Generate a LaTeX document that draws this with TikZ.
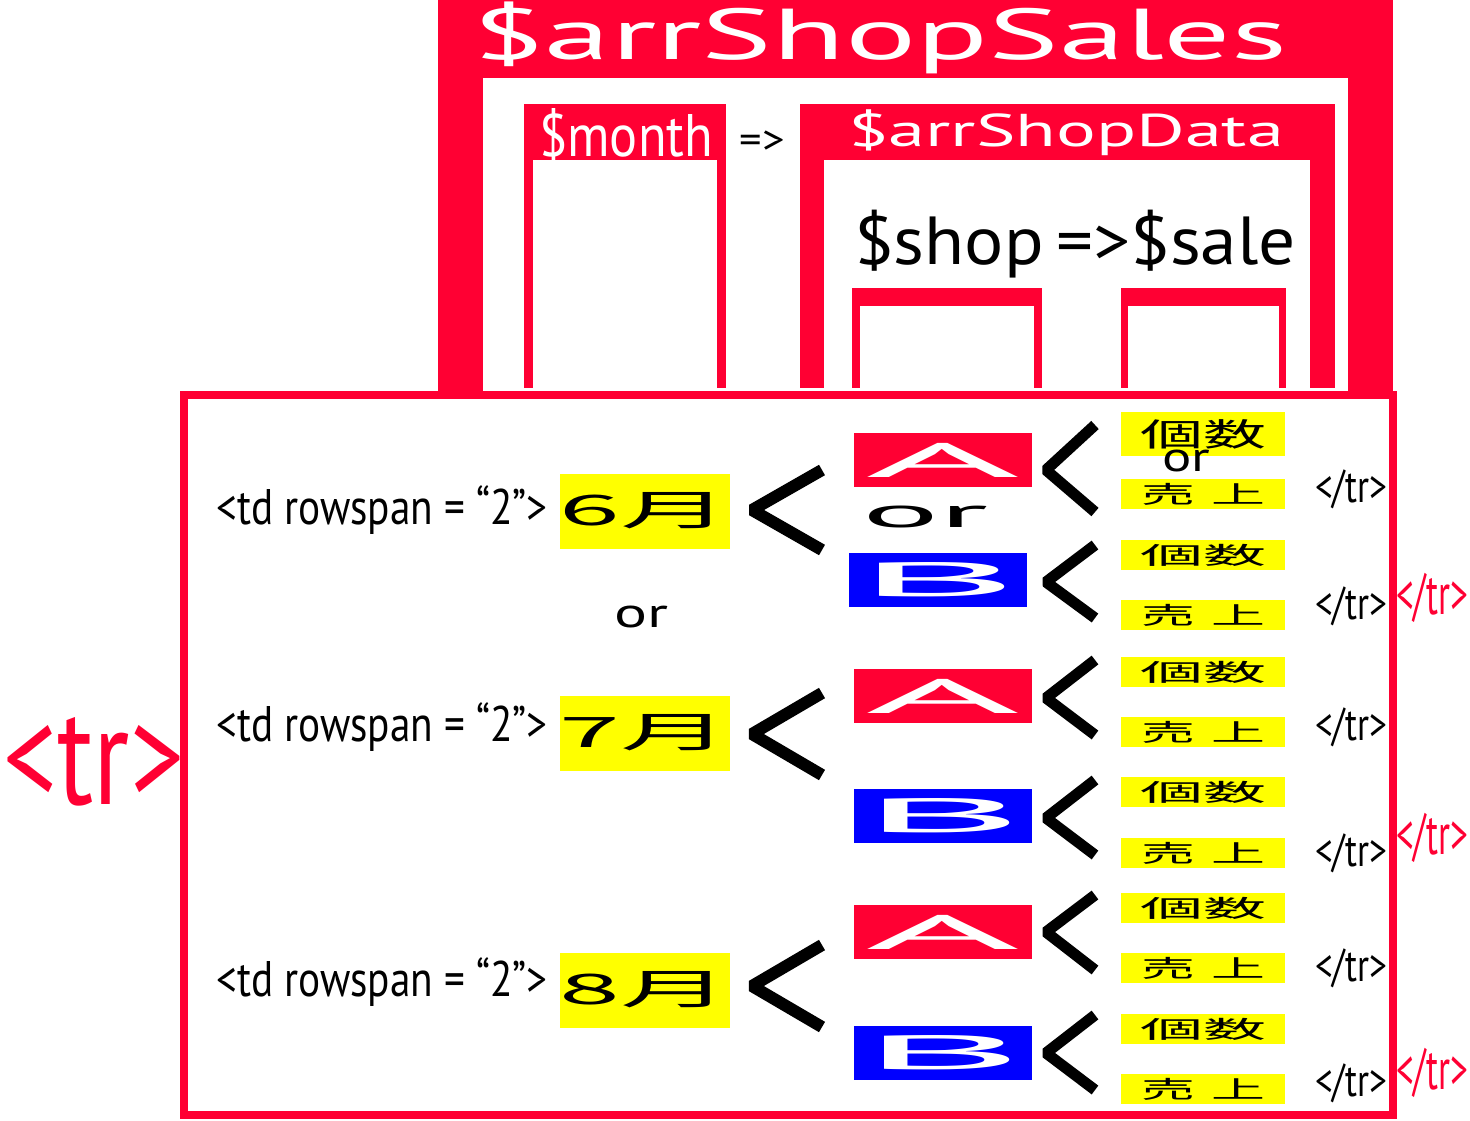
\documentclass[tikz,border=0pt]{standalone}
\usepackage{fontspec}
\usepackage{graphicx}
\setmainfont{PT Sans}
\newfontfamily\jpfont{Noto Sans CJK JP}
\usetikzlibrary{positioning}

\definecolor{tagred}{RGB}{255,0,51}
\definecolor{cellyel}{RGB}{255,255,0}
\definecolor{shopblue}{RGB}{0,0,255}

% font size in pt, and text stretched to a given width
\newcommand{\fs}[1]{\fontsize{#1}{#1}\selectfont}
\newcommand{\stretchto}[2]{\resizebox{#1pt}{\height}{#2}}

\begin{document}
\begin{tikzpicture}[x=1pt, y=-1pt,
      txt/.style={inner sep=0pt},
      hdr/.style={inner sep=0pt, text=white},
      redtag/.style={inner sep=0pt, text=tagred},
      monthcell/.style={fill=cellyel, minimum width=170pt, minimum height=75pt, inner sep=0pt, font=\jpfont},
      shopA/.style={fill=tagred, minimum width=178pt, minimum height=54pt, inner sep=0pt, text=white},
      shopB/.style={fill=shopblue, minimum width=178pt, minimum height=54pt, inner sep=0pt, text=white},
      cell/.style={fill=cellyel, minimum width=164pt, minimum height=30pt, inner sep=0pt, font=\jpfont},
      bigchev/.style={line width=12pt, line join=bevel},
      chev/.style={line width=11pt, line join=bevel}]

    \useasboundingbox (0,0) rectangle (1470,1120);

    % the array, drawn as nested frames
    \fill[tagred] (438,0) rectangle (1393,391);
    \fill[white]  (483,78) rectangle (1348,391);
    \fill[tagred] (524,104) rectangle (726,388);
    \fill[white]  (533,160) rectangle (717,388);
    \fill[tagred] (800,104) rectangle (1335,388);
    \fill[white]  (824,160) rectangle (1310,388);
    \fill[tagred] (852,288) rectangle (1042,388);
    \fill[white]  (860,306) rectangle (1034,388);
    \fill[tagred] (1121,288) rectangle (1286,388);
    \fill[white]  (1128,306) rectangle (1279,388);

    \node[hdr] (sales)    at (880,38)   {\fs{72}\stretchto{815}{\$arrShopSales}};
    \node[hdr] (month)    at (626,135)  {\fs{60}\stretchto{174}{\$month}};
    \node[txt] (arrow)    at (762,142)  {\fs{40}\stretchto{45}{=>}};
    \node[hdr] (shopdata) at (1066,133) {\fs{46}\stretchto{436}{\$arrShopData}};
    \node[txt] (pair)     at (1075,244) {\fs{68}\stretchto{442}{\$shop\,=>\$sale}};

    % the table rows
    \draw[tagred, line width=8pt, fill=white] (184,395) rectangle (1393,1115);
    \node[redtag] (tr) at (94,762) {\fs{140}\stretchto{180}{<tr>}};

    % one month per pair of rows
    \node[txt] (td6) at (382,510) {\fs{50}\stretchto{331}{<td rowspan = “2”>}};
    \node[monthcell] (m6) at (645,511) {\fs{42}\stretchto{170}{6月}};
    \node[txt] (td7) at (382,727) {\fs{50}\stretchto{331}{<td rowspan = “2”>}};
    \node[monthcell] (m7) at (645,733) {\fs{42}\stretchto{170}{7月}};
    \node[txt] (td8) at (382,982) {\fs{50}\stretchto{331}{<td rowspan = “2”>}};
    \node[monthcell] (m8) at (645,990) {\fs{42}\stretchto{170}{8月}};
    \node[txt] (or2) at (641,617) {\fs{42}\stretchto{54}{or}};

    \draw[bigchev] (822,470) -- (752,510) -- (822,550);
    \draw[bigchev] (822,693) -- (752,734) -- (822,775);
    \draw[bigchev] (822,945) -- (752,986) -- (822,1027);

    % shops
    \node[shopA] (a6) at (943,460)  {\fs{48}\stretchto{155}{A}};
    \node[shopB] (b6) at (938,580)  {\fs{48}\stretchto{165}{B}\hspace{45pt}};
    \node[shopA] (a7) at (943,696)  {\fs{48}\stretchto{155}{A}};
    \node[shopB] (b7) at (943,816)  {\fs{48}\stretchto{165}{B}\hspace{45pt}};
    \node[shopA] (a8) at (943,932)  {\fs{48}\stretchto{155}{A}};
    \node[shopB] (b8) at (943,1053) {\fs{48}\stretchto{165}{B}\hspace{45pt}};
    \node[txt] (or1) at (925,517) {\fs{42}\stretchto{126}{or}};

    \foreach \t/\m/\b in {425/470/512, 545/582/618, 660/698/735, 780/818/855, 895/932/970, 1015/1053/1090}
      \draw[chev] (1095,\t) -- (1046,\m) -- (1095,\b);

    % count and sales cells, closing tags
    \node[cell, minimum height=44pt] (n6a) at (1203,434) {\fs{32}\stretchto{126}{個数}};
    \node[cell] (s6a) at (1203,494) {\fs{24}\stretchto{124}{売\hspace{0.3em}上}};
    \node[txt] (or3) at (1186,461) {\fs{42}\stretchto{48}{or}};
    \foreach \n/\yn/\ys in {6b/555/615, 7a/672/732, 7b/792/853, 8a/908/968, 8b/1029/1089} {
      \node[cell] (n\n) at (1203,\yn) {\fs{24}\stretchto{126}{個数}};
      \node[cell] (s\n) at (1203,\ys) {\fs{24}\stretchto{124}{売\hspace{0.3em}上}};
    }

    \foreach \y in {489, 606, 727, 853, 968, 1083}
      \node[txt] at (1351,\y) {\fs{46}\stretchto{72}{</tr>}};
    \foreach \y in {598, 838, 1073}
      \node[redtag] at (1432,\y) {\fs{58}\stretchto{72}{</tr>}};

\end{tikzpicture}
\end{document}
